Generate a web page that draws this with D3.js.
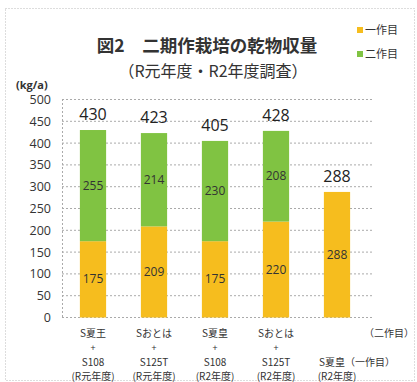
<!DOCTYPE html>
<html><head><meta charset="utf-8">
<script src="https://cdn.jsdelivr.net/npm/d3@7"></script>
<style>body{margin:0;background:#fff;} svg{display:block;font-family:"Noto Sans CJK JP","Noto Sans",sans-serif;}</style>
</head><body>
<svg id="c" width="417" height="382"></svg>
<script>
const categories = ["c1","c2","c3","c4","c5"];
const labelLines = [
  ["S夏王","+","S108","(R元年度)"],
  ["Sおとは","+","S125T","(R元年度)"],
  ["S夏皇","+","S108","(R2年度)"],
  ["Sおとは","+","S125T","(R2年度)"],
  ["","","","(R2年度)"]
];
const firstCrop = [175, 209, 175, 220, 288];
const secondCrop = [255, 214, 230, 208, 0];
const totals = [430, 423, 405, 428, 288];
const yTicks = [0,50,100,150,200,250,300,350,400,450,500];
const seriesNames = ["一作目","二作目"];
const colors = ["#F6BD1E","#80C342"];

const svg = d3.select("#c");
svg.append("rect").attr("x",5.5).attr("y",8.5).attr("width",409).attr("height",372)
  .attr("fill","none").attr("stroke","#bbb").attr("stroke-dasharray","1,2");

const y = d3.scaleLinear().domain([0,500]).range([317.5,99.5]);
const x = d3.scaleBand().domain(categories).range([62.5,367.5]).paddingInner(0.57).paddingOuter(0.285);

// gridlines
svg.append("g").selectAll("line").data(yTicks).join("line")
  .attr("x1",62).attr("x2",372).attr("y1",d=>y(d)).attr("y2",d=>y(d))
  .attr("stroke","#aaa").attr("stroke-dasharray","2,2");
svg.append("line").attr("x1",62.5).attr("x2",62.5).attr("y1",99).attr("y2",318)
  .attr("stroke","#aaa").attr("stroke-dasharray","2,2");

// y axis labels
const yAxis = d3.axisLeft(y).tickValues(yTicks).tickSize(0).tickPadding(7);
const ga = svg.append("g").attr("transform","translate(58,0)").call(yAxis);
ga.select(".domain").remove();
ga.selectAll("text").attr("font-size",12.5).attr("fill","#333").attr("font-family","'Open Sans',sans-serif");

svg.append("text").attr("x",16).attr("y",89).attr("font-size",11).attr("font-weight","bold").attr("fill","#333")
  .attr("font-family","'Open Sans',sans-serif").text("(kg/a)");

// bars
const stack = categories.map((c,i)=>({c, a:firstCrop[i], b:secondCrop[i]}));
svg.append("g").selectAll("rect").data(stack).join("rect")
  .attr("x",d=>x(d.c)).attr("width",x.bandwidth())
  .attr("y",d=>y(d.a)).attr("height",d=>y(0)-y(d.a)).attr("fill",colors[0]);
svg.append("g").selectAll("rect").data(stack.filter(d=>d.b>0)).join("rect")
  .attr("x",d=>x(d.c)).attr("width",x.bandwidth())
  .attr("y",d=>y(d.a+d.b)).attr("height",d=>y(d.a)-y(d.a+d.b)).attr("fill",colors[1]);

// inside labels
const lab = svg.append("g").attr("font-size",12).attr("fill","#333").attr("text-anchor","middle").attr("font-family","'Open Sans',sans-serif");
lab.selectAll("text.a").data(stack).join("text").attr("class","a")
  .attr("x",d=>x(d.c)+x.bandwidth()/2).attr("y",d=>y(d.a/2)+4).text(d=>d.a);
lab.selectAll("text.b").data(stack.filter(d=>d.b>0)).join("text").attr("class","b")
  .attr("x",d=>x(d.c)+x.bandwidth()/2).attr("y",d=>y(d.a+d.b/2)+4).text(d=>d.b);
// totals
svg.append("g").selectAll("text").data(categories).join("text")
  .attr("x",d=>x(d)+x.bandwidth()/2).attr("y",(d,i)=>y(totals[i])-10)
  .attr("text-anchor","middle").attr("font-size",16).attr("fill","#222")
  .attr("font-family","'Open Sans',sans-serif").text((d,i)=>totals[i]);

// x labels
const lineY = [336.5, 351, 365.5, 380];
categories.forEach((c,i)=>{
  labelLines[i].forEach((t,j)=>{
    if(!t) return;
    svg.append("text").attr("x",x(c)+x.bandwidth()/2).attr("y",lineY[j])
      .attr("text-anchor","middle").attr("font-size",j===1?9:10).attr("fill","#333").text(t);
  });
});
svg.append("text").attr("x",389).attr("y",lineY[0]).attr("text-anchor","middle").attr("font-size",10).attr("fill","#333").text("（二作目）");
svg.append("text").attr("x",357).attr("y",lineY[2]).attr("text-anchor","middle").attr("font-size",10).attr("fill","#333").text("S夏皇（一作目）");

// title
svg.append("text").attr("x",207).attr("y",51.5).attr("text-anchor","middle").attr("font-size",17.5).attr("font-weight","bold")
  .attr("fill","#333").text("図2　二期作栽培の乾物収量");
svg.append("text").attr("x",213).attr("y",76.5).attr("text-anchor","middle").attr("font-size",16)
  .attr("fill","#333").text("（R元年度・R2年度調査）");

// legend
const lg = svg.append("g");
seriesNames.forEach((n,i)=>{
  lg.append("rect").attr("x",357).attr("y",27+i*24).attr("width",6).attr("height",6).attr("fill",colors[i]);
  lg.append("text").attr("x",365).attr("y",34+i*24).attr("font-size",11).attr("fill","#333").text(n);
});
</script>
</body></html>
